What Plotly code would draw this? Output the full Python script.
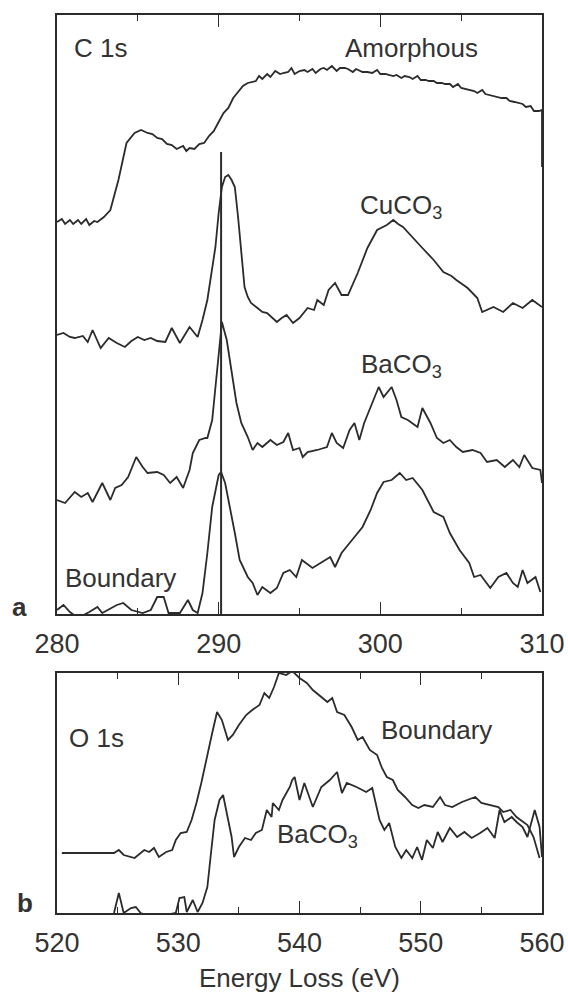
import plotly.graph_objects as go

# ---------------- Panel a: C 1s (energy in eV, intensity in arbitrary units) ----------------
amor_e = [280.0, 280.3, 280.5, 280.8, 281.0, 281.3, 281.5, 281.8, 282.0, 282.3, 282.5, 282.9, 283.3, 283.8,
          284.3, 284.8, 285.2, 285.6, 285.9, 286.2, 286.5, 286.8, 287.1, 287.4, 287.8, 288.0, 288.2, 288.5,
          288.8, 289.1, 289.4, 289.7, 290.0, 290.3, 290.6, 290.9, 291.1, 291.5, 291.8, 292.0, 292.3, 292.5,
          292.7, 293.0, 293.2, 293.5, 293.8, 294.0, 294.3, 294.5, 294.7, 295.0, 295.3, 295.5, 295.8, 296.0,
          296.3, 296.5, 296.7, 297.0, 297.3, 297.5, 297.8, 298.0, 298.3, 298.5, 298.9, 299.2, 299.5, 299.8,
          300.0, 300.3, 300.5, 300.8, 301.0, 301.3, 301.5, 301.8, 302.0, 302.3, 302.5, 302.8, 303.0, 303.3,
          303.5, 303.8, 304.0, 304.3, 304.5, 304.8, 305.0, 305.3, 305.5, 305.8, 306.0, 306.3, 306.5, 306.8,
          307.0, 307.3, 307.5, 307.8, 308.0, 308.3, 308.5, 308.8, 309.0, 309.3, 309.5, 309.8, 310.0, 310.0]
amor_i = [392, 395, 390, 394, 390, 394, 390, 395, 389, 393, 392, 397, 404, 434,
          471, 481, 484, 481, 480, 476, 475, 470, 469, 465, 468, 463, 466, 465,
          470, 471, 478, 483, 492, 501, 506, 516, 520, 528, 531, 532, 533, 538,
          535, 540, 537, 543, 540, 541, 542, 546, 540, 543, 544, 542, 545, 541,
          545, 546, 544, 548, 543, 546, 546, 545, 542, 545, 542, 542, 541, 544,
          540, 540, 539, 538, 539, 536, 538, 537, 535, 538, 534, 534, 533, 533,
          531, 531, 530, 530, 527, 530, 526, 525, 524, 523, 521, 524, 520, 519,
          518, 517, 516, 516, 513, 512, 511, 510, 507, 508, 503, 503, 504, 447]

cuco3_e = [280.0, 280.4, 280.8, 281.1, 281.6, 281.9, 282.2, 282.7, 283.2, 283.7, 284.2, 284.6, 285.0,
           285.4, 285.8, 286.2, 286.7, 287.1, 287.6, 287.9, 288.2, 288.7, 289.0, 289.3, 289.6, 289.8,
           290.0, 290.2, 290.4, 290.6, 290.8, 291.0, 291.2, 291.4, 291.6, 291.8, 292.0, 292.4, 292.7,
           293.0, 293.3, 293.6, 293.9, 294.2, 294.6, 295.0, 295.5, 295.9, 296.1, 296.5, 296.8, 297.2,
           297.6, 298.0, 298.6, 299.2, 299.8, 300.4, 300.8, 301.1, 301.4, 302.0, 302.6, 303.3, 303.9,
           304.4, 304.7, 305.4, 306.0, 306.3, 307.0, 307.6, 308.2, 308.8, 309.4, 310.0]
cuco3_i = [279, 281, 277, 276, 278, 272, 284, 266, 276, 271, 267, 273, 277,
           274, 276, 273, 272, 286, 271, 279, 287, 277, 294, 314, 347, 367,
           401, 427, 437, 439, 434, 427, 397, 361, 327, 317, 311, 306, 302,
           301, 296, 292, 296, 299, 291, 296, 306, 304, 314, 309, 324, 331,
           319, 319, 341, 366, 384, 389, 394, 390, 387, 377, 366, 354, 342,
           338, 334, 326, 316, 302, 307, 302, 311, 306, 314, 307]

baco3_e = [280.0, 280.5, 281.1, 281.5, 281.9, 282.2, 282.8, 283.3, 283.6, 284.0, 284.4, 284.9, 285.3,
           285.6, 286.2, 286.6, 287.0, 287.4, 287.8, 288.2, 288.4, 288.8, 289.2, 289.3, 289.6, 289.8,
           290.0, 290.2, 290.5, 290.8, 291.1, 291.4, 291.8, 292.1, 292.4, 292.7, 293.2, 293.6, 294.0,
           294.3, 294.6, 295.0, 295.2, 295.5, 296.1, 296.7, 297.0, 297.3, 297.7, 298.1, 298.4, 298.7,
           299.0, 299.4, 299.9, 300.2, 300.7, 301.0, 301.3, 301.7, 302.3, 302.6, 303.1, 303.5, 303.9,
           304.3, 304.7, 305.1, 305.7, 306.2, 306.6, 307.2, 307.7, 308.2, 308.6, 308.9, 309.4, 309.9, 310.0]
baco3_i = [114, 111, 122, 117, 121, 112, 131, 114, 126, 129, 137, 157, 147,
           141, 142, 139, 131, 137, 126, 144, 161, 174, 176, 176, 194, 227,
           261, 292, 274, 244, 211, 191, 177, 164, 171, 167, 174, 169, 172,
           181, 164, 166, 157, 162, 164, 167, 181, 171, 166, 184, 191, 174,
           191, 207, 227, 217, 227, 214, 197, 194, 187, 206, 191, 176, 171,
           174, 167, 162, 164, 161, 152, 154, 147, 154, 147, 159, 146, 144, 131]

bound_c_e = [280.0, 280.4, 280.8, 281.3, 282.0, 282.5, 282.8, 283.7, 284.1, 284.6, 285.3, 285.8, 286.2,
             286.6, 286.9, 287.6, 288.1, 288.4, 288.7, 289.0, 289.3, 289.6, 290.0, 290.15, 290.4, 290.7,
             291.0, 291.3, 291.8, 292.1, 292.4, 292.7, 293.2, 293.6, 294.0, 294.4, 294.8, 295.15, 295.8,
             296.4, 296.9, 297.2, 297.6, 298.1, 298.6, 298.9, 299.4, 299.8, 300.2, 300.7, 301.2, 301.6,
             302.0, 302.6, 303.3, 303.9, 304.3, 304.9, 305.5, 305.8, 306.2, 306.8, 307.3, 307.8, 308.2,
             308.5, 308.8, 309.1, 309.6, 309.9]
bound_c_i = [4, 9, 2, -4, 2, 7, 1, 9, 11, 4, 1, 4, 17,
             17, 1, 1, 14, 4, 1, 21, 61, 107, 139, 142, 131, 107,
             81, 54, 37, 31, 19, 27, 21, 26, 41, 44, 37, 54, 46,
             52, 57, 47, 61, 71, 81, 87, 104, 121, 132, 134, 141, 134,
             136, 124, 102, 97, 81, 64, 51, 37, 39, 26, 37, 41, 31,
             27, 44, 31, 37, 22]

marker_e = [290.15, 290.15]
marker_i = [0, 462]

# ---------------- Panel b: O 1s ----------------
bound_o_e = [520.4, 524.7, 525.1, 525.5, 526.4, 527.2, 527.6, 528.0, 528.4, 529.0, 529.5, 529.8, 530.2,
             530.7, 531.1, 531.5, 531.9, 532.4, 532.8, 533.2, 533.6, 534.1, 534.5, 535.0, 535.6, 536.1,
             536.7, 537.1, 537.5, 537.9, 538.3, 538.9, 539.4, 540.0, 540.6, 541.1, 541.8, 542.3, 542.7,
             543.1, 543.7, 544.3, 544.8, 545.2, 545.8, 546.4, 546.8, 547.2, 547.7, 548.1, 548.7, 549.3,
             549.8, 550.3, 551.0, 551.6, 552.0, 552.6, 553.4, 553.9, 554.5, 555.0, 555.7, 556.4, 556.8,
             557.4, 557.9, 558.8, 559.3, 559.8]
bound_o_i = [60, 60, 63, 58, 55, 63, 61, 65, 56, 61, 63, 73, 80,
             81, 93, 110, 130, 156, 180, 201, 193, 173, 178, 188, 198, 203,
             208, 220, 215, 226, 240, 238, 242, 235, 230, 223, 216, 211, 215,
             201, 198, 186, 173, 176, 163, 158, 145, 136, 133, 123, 116, 108,
             105, 108, 106, 116, 108, 106, 111, 113, 116, 110, 108, 106, 101,
             103, 96, 88, 76, 55]

baco3_o_e = [524.7, 525.1, 525.5, 526.1, 526.5, 526.9, 527.5, 528.5, 529.8, 530.1, 530.5, 530.7, 531.2,
             531.6, 532.0, 532.4, 532.7, 533.0, 533.4, 533.7, 534.0, 534.4, 534.6, 535.0, 535.5, 536.0,
             536.4, 536.9, 537.3, 537.7, 537.8, 538.3, 538.6, 539.2, 539.4, 539.6, 540.0, 540.4, 541.1,
             541.8, 542.5, 543.1, 543.5, 543.9, 544.7, 545.5, 546.0, 546.6, 547.0, 547.4, 547.9, 548.4,
             548.8, 549.3, 549.7, 550.1, 550.5, 551.0, 551.4, 551.8, 552.4, 553.0, 553.6, 554.2, 554.9,
             555.5, 556.1, 556.5, 556.9, 557.5, 557.9, 558.4, 558.8, 559.4, 559.8, 560.0]
baco3_o_i = [0, 20, 0, 5, 6, 0, -3, -3, 0, 15, 16, 1, 13,
             1, 10, 26, 60, 93, 113, 118, 100, 76, 56, 66, 75, 73,
             80, 83, 103, 96, 110, 103, 113, 126, 133, 136, 113, 130, 106,
             126, 133, 141, 120, 130, 126, 121, 125, 93, 83, 90, 66, 55,
             63, 55, 66, 53, 73, 65, 81, 71, 85, 76, 81, 75, 80,
             85, 75, 103, 91, 96, 91, 86, 76, 103, 86, 56]

# ---------------- Axis ticks ----------------
c_ticks = [280, 290, 300, 310]
o_ticks = [520, 530, 540, 550, 560]

FONT = "Liberation Sans, Arial, sans-serif"
INK = "#2b2b2b"
LINE = dict(color=INK, width=1.8)

fig = go.Figure()
for xs, ys in [(amor_e, amor_i), (cuco3_e, cuco3_i), (baco3_e, baco3_i), (bound_c_e, bound_c_i)]:
    fig.add_trace(go.Scatter(x=xs, y=ys, mode="lines", line=LINE, xaxis="x", yaxis="y",
                             showlegend=False, hoverinfo="skip"))
fig.add_trace(go.Scatter(x=marker_e, y=marker_i, mode="lines", line=dict(color=INK, width=2),
                         xaxis="x", yaxis="y", showlegend=False, hoverinfo="skip"))
for xs, ys in [(bound_o_e, bound_o_i), (baco3_o_e, baco3_o_i)]:
    fig.add_trace(go.Scatter(x=xs, y=ys, mode="lines", line=LINE, xaxis="x2", yaxis="y2",
                             showlegend=False, hoverinfo="skip"))

common_x = dict(showline=True, linecolor=INK, linewidth=1.8, mirror="ticks", ticks="inside",
                ticklen=12, tickwidth=1.2, tickcolor=INK, showgrid=False, zeroline=False,
                automargin=False,
                tickfont=dict(family=FONT, size=27, color="#333"), ticklabelstandoff=5,
                minor=dict(ticks="inside", ticklen=6, tickwidth=1.2, tickcolor=INK, showgrid=False))
common_y = dict(showline=True, linecolor=INK, linewidth=1.8, mirror=True, ticks="",
                automargin=False,
                showticklabels=False, showgrid=False, zeroline=False)

top_dom = [299 / 898, 1.0]
bot_dom = [0.0, 240 / 898]

fig.update_layout(
    width=568, height=994,
    margin=dict(l=57, r=26, t=15, b=81, autoexpand=False),
    paper_bgcolor="white", plot_bgcolor="white",
    font=dict(family=FONT, size=26, color="#333"),
    xaxis=dict(common_x, range=[280, 310], tickvals=c_ticks, anchor="y",
               minor=dict(common_x["minor"], dtick=5, tick0=280)),
    yaxis=dict(common_y, range=[0, 599], domain=top_dom, anchor="x"),
    xaxis2=dict(common_x, range=[520, 560], tickvals=o_ticks, anchor="y2",
                minor=dict(common_x["minor"], dtick=5, tick0=520)),
    yaxis2=dict(common_y, range=[0, 240], domain=bot_dom, anchor="x2"),
)

txt = dict(showarrow=False, font=dict(family=FONT, size=26, color="#333"))
anns = [
    dict(txt, text="C 1s", x=280.9, y=566, xref="x", yref="y", xanchor="left"),
    dict(txt, text="Amorphous", x=301.95, y=566, xref="x", yref="y"),
    dict(txt, text="CuCO<sub>3</sub>", x=301.3, y=408, xref="x", yref="y"),
    dict(txt, text="BaCO<sub>3</sub>", x=301.3, y=249, xref="x", yref="y"),
    dict(txt, text="Boundary", x=283.9, y=36, xref="x", yref="y"),
    dict(txt, text="O 1s", x=520.8, y=175, xref="x2", yref="y2", xanchor="left"),
    dict(txt, text="Boundary", x=551.3, y=183, xref="x2", yref="y2"),
    dict(txt, text="BaCO<sub>3</sub>", x=541.5, y=78, xref="x2", yref="y2"),
    dict(txt, text="Energy Loss (eV)", x=0.5 + (299 - 299.5) / 485, y=-0.0724, xref="paper",
         yref="paper", xanchor="center", yanchor="middle"),
    dict(showarrow=False, text="<b>a</b>", x=-0.078, y=0.3408, xref="paper", yref="paper",
         xanchor="center", yanchor="middle", font=dict(family=FONT, size=26, color="#333")),
    dict(showarrow=False, text="<b>b</b>", x=-0.066, y=0.011, xref="paper", yref="paper",
         xanchor="center", yanchor="middle", font=dict(family=FONT, size=26, color="#333")),
]
fig.update_layout(annotations=anns)

fig.write_html("out.html", config={"displayModeBar": False},
               post_script="document.body.style.margin='0';document.body.style.overflow='hidden';")
